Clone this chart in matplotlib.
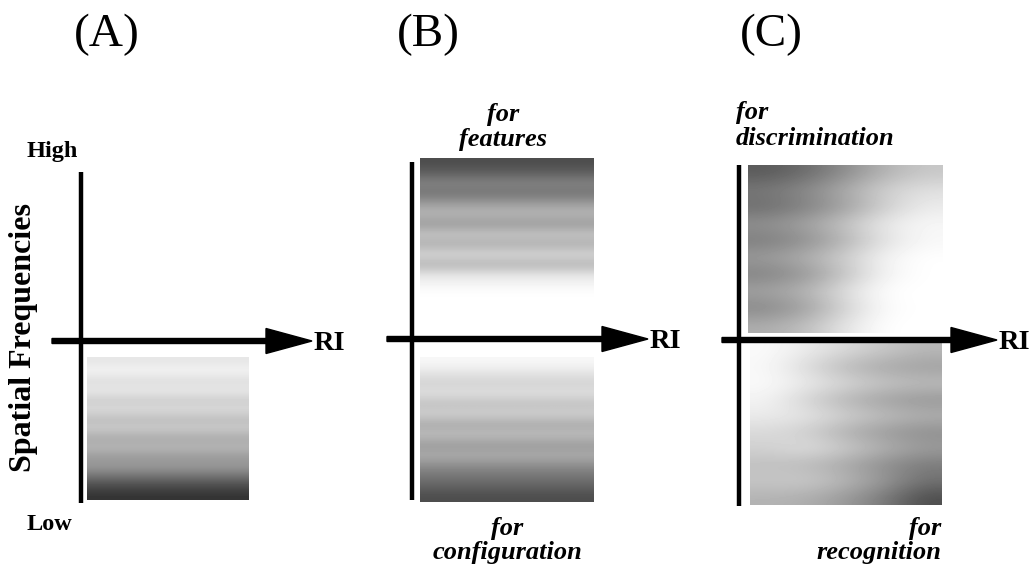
import matplotlib
matplotlib.use("Agg")
import matplotlib.pyplot as plt
from matplotlib.patches import FancyArrow
import numpy as np

# gray levels (0 = black, 1 = white), read top -> bottom
box_a_levels = [0.90, 0.96, 0.86, 0.92, 0.80, 0.86, 0.74, 0.80, 0.66, 0.72, 0.60, 0.60, 0.45, 0.30, 0.20]
box_b_top_levels = [0.30, 0.38, 0.52, 0.45, 0.62, 0.72, 0.60, 0.78, 0.68, 0.85, 0.70, 0.90, 0.96, 1.0]
box_b_bottom_levels = [0.97, 0.90, 0.82, 0.88, 0.75, 0.82, 0.66, 0.75, 0.60, 0.68, 0.55, 0.46, 0.38, 0.30]

# panel C: rows top -> bottom, columns left -> right
box_c_top_grid = [
    [0.35, 0.42, 0.55, 0.70, 0.78],
    [0.48, 0.55, 0.68, 0.82, 0.88],
    [0.42, 0.50, 0.62, 0.80, 0.92],
    [0.58, 0.65, 0.78, 0.92, 0.97],
    [0.48, 0.55, 0.70, 0.88, 0.97],
    [0.62, 0.70, 0.82, 0.96, 1.00],
    [0.50, 0.58, 0.76, 0.95, 1.00],
    [0.65, 0.72, 0.88, 1.00, 1.00],
    [0.52, 0.62, 0.82, 0.98, 1.00],
    [0.68, 0.75, 0.90, 1.00, 1.00],
]
box_c_bottom_grid = [
    [0.98, 0.92, 0.85, 0.78, 0.72],
    [0.97, 0.85, 0.72, 0.65, 0.62],
    [0.98, 0.92, 0.85, 0.78, 0.75],
    [0.95, 0.82, 0.70, 0.62, 0.58],
    [0.92, 0.90, 0.82, 0.75, 0.70],
    [0.85, 0.80, 0.68, 0.60, 0.55],
    [0.82, 0.88, 0.80, 0.70, 0.62],
    [0.75, 0.72, 0.65, 0.55, 0.48],
    [0.78, 0.80, 0.72, 0.60, 0.45],
    [0.70, 0.68, 0.60, 0.48, 0.30],
]

panel_titles = ["(A)", "(B)", "(C)"]

SERIF = ["Liberation Serif", "DejaVu Serif"]

fig = plt.figure(figsize=(10.31, 5.66), dpi=100)
ax = fig.add_axes([0, 0, 1, 1])


def shade(levels, x0, x1, y0, y1):
    img = np.array(levels, dtype=float)
    if img.ndim == 1:
        img = img[:, None]
    ax.imshow(img, cmap="gray", vmin=0, vmax=1, extent=(x0, x1, y1, y0),
              interpolation="bicubic", aspect="auto", zorder=1)


shade(box_a_levels, 87, 249, 357, 500)
shade(box_b_top_levels, 420, 594, 158, 300)
shade(box_b_bottom_levels, 420, 594, 357, 502)
shade(box_c_top_grid, 748, 943, 165, 333)
shade(box_c_bottom_grid, 750, 942, 343, 505)

# vertical axes
for x, ytop, ybot in [(81, 172, 503), (412, 162, 500), (739, 165, 506)]:
    ax.plot([x, x], [ytop, ybot], color="black", lw=3.2, solid_capstyle="butt", zorder=3)

# RI arrows
for y, xs, xe in [(341, 52, 312), (339, 387, 648), (340, 722, 997)]:
    ax.add_patch(FancyArrow(xs, y, xe - xs, 0, width=5, head_width=25, head_length=46,
                            length_includes_head=True, color="black", zorder=3))
    ax.text(xe + 2, y + 9, "RI", family=SERIF, fontweight="bold", fontsize=20.5,
            ha="left", va="baseline")

for t, x in zip(panel_titles, [107, 428, 771]):
    ax.text(x, 35, t, family=SERIF, fontsize=34, ha="center", va="center")

ax.text(27, 157, "High", family=SERIF, fontweight="bold", fontsize=17.5, va="baseline")
ax.text(27, 530, "Low", family=SERIF, fontweight="bold", fontsize=17.5, va="baseline")
ax.text(24, 338, "Spatial Frequencies", family=SERIF, fontweight="bold", fontsize=23,
        rotation=90, ha="center", va="center")

labels = [
    ("for", 503, 121, "center"), ("features", 503, 146, "center"),
    ("for", 736, 119, "left"), ("discrimination", 736, 145, "left"),
    ("for", 507, 535, "center"), ("configuration", 507, 559, "center"),
    ("for", 941, 535, "right"), ("recognition", 941, 559, "right"),
]
for s, x, y, ha in labels:
    ax.text(x, y, s, family=SERIF, fontweight="bold", style="italic", fontsize=19,
            ha=ha, va="baseline")

ax.set_xlim(0, 1031)
ax.set_ylim(566, 0)
ax.axis("off")

fig.savefig("out.png", dpi=100, facecolor="white")
